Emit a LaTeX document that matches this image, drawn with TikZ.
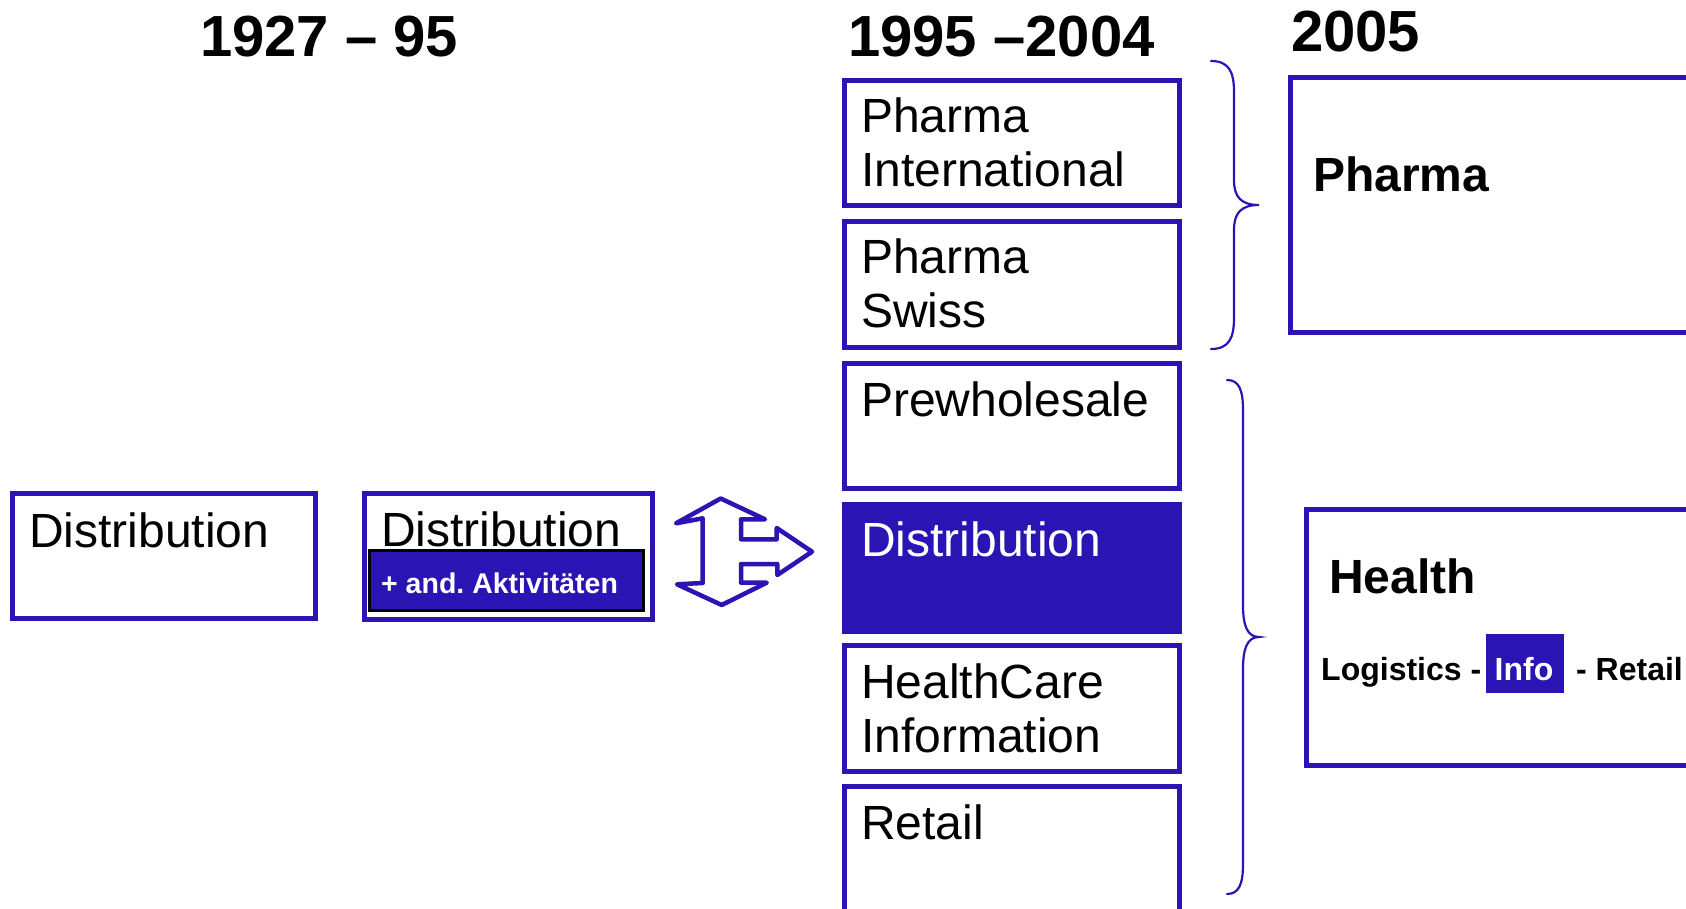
\documentclass[tikz,border=0pt]{standalone}
\usepackage{fontspec}
\setmainfont{Liberation Sans}
\frenchspacing
\definecolor{brand}{RGB}{42,20,180}
\tikzset{
  frame/.style={draw=brand, line width=5pt, fill=white, inner sep=0pt, anchor=north west},
  solidbox/.style={draw=brand, fill=brand, line width=5pt, inner sep=0pt, anchor=north west},
  txt/.style={inner sep=0pt, anchor=base west, font=\fontsize{48}{54}\selectfont},
  txtbold/.style={inner sep=0pt, anchor=base west, font=\fontsize{48}{54}\selectfont\bfseries},
  yeartitle/.style={inner sep=0pt, anchor=base west, font=\fontsize{58}{64}\selectfont\bfseries},
  smallbold/.style={inner sep=0pt, anchor=base west, font=\fontsize{32}{36}\selectfont\bfseries},
  brace/.style={draw=brand, line width=2.2pt, line cap=round},
}
\begin{document}
\begin{tikzpicture}[x=1pt, y=-1pt]
\useasboundingbox (0,0) rectangle (1686,909);
\clip (0,0) rectangle (1686,909);

% period headings
\node[yeartitle] (y1) at (200,57) {1927 – 95};
\node[yeartitle] (y2) at (848,57) {1995 –2004};
\node[yeartitle] (y3) at (1291,52) {2005};

% 1927-95 (anchors sit on the outer edge of the frame line)
\node[frame, minimum width=303.5pt, minimum height=125pt] (old) at (9.5,491) {};
\node[txt] (oldtxt) at (29,547) {Distribution};

% transition box with extra activities
\node[frame, minimum width=288pt, minimum height=126pt] (mid) at (362,491) {};
\node[txt] (midtxt) at (381,546) {Distribution};
\node[draw=black, fill=brand, line width=3pt, inner sep=0pt, anchor=north west,
      minimum width=274pt, minimum height=60pt] (extra) at (368,549) {};
\node[inner sep=0pt, anchor=base west, text=white,
      font=\fontsize{28.5}{32}\selectfont\bfseries] (extratxt) at (381,593) {+ and. Aktivitäten};

% block arrow: up/down with a branch to the right
\draw[draw=brand, fill=white, line width=4.5pt, line join=round]
  (720.7,498.5) -- (765,519.3) -- (741,519.3) -- (741,539.3) -- (776.7,539.3)
  -- (776.7,528) -- (812,551.7) -- (777.3,575) -- (777.3,564) -- (741,564)
  -- (741,582.7) -- (766.7,582.7) -- (721.7,605) -- (677,584.3) -- (702.7,583)
  -- (702.7,518.3) -- (676,523.3) -- cycle;

% 1995-2004 business units
\node[frame, minimum width=335pt, minimum height=125.5pt] (pi) at (842,78) {};
\node[txt] (pi1) at (861,133) {Pharma};
\node[txt] (pi2) at (861,187) {International};

\node[frame, minimum width=335pt, minimum height=125.5pt] (ps) at (842,219.3) {};
\node[txt] (ps1) at (861,273) {Pharma};
\node[txt] (ps2) at (861,327) {Swiss};

\node[frame, minimum width=335pt, minimum height=125.5pt] (pw) at (842,360.6) {};
\node[txt] (pwt) at (861,416) {Prewholesale};

\node[solidbox, minimum width=335pt, minimum height=127pt] (dist) at (842,501.5) {};
\node[txt, text=white] (distt) at (861,556) {Distribution};

\node[frame, minimum width=335pt, minimum height=125.5pt] (hc) at (842,643) {};
\node[txt] (hc1) at (861,698) {HealthCare};
\node[txt] (hc2) at (861,752) {Information};

\node[frame, minimum width=335pt, minimum height=160pt] (rt) at (842,784) {};
\node[txt] (rtt) at (861,839) {Retail};

% grouping braces
\draw[brace] (1211,61) .. controls (1229,61) and (1234,72) .. (1234,92)
  -- (1234,180) .. controls (1234,197) and (1241,205) .. (1259,205)
  .. controls (1241,205) and (1234,213) .. (1234,230)
  -- (1234,318) .. controls (1234,338) and (1229,349) .. (1211,349);
\draw[brace] (1227,380) .. controls (1239,380) and (1243,390) .. (1243,410)
  -- (1243,605) .. controls (1243,625) and (1247,637) .. (1259,637)
  .. controls (1247,637) and (1243,649) .. (1243,669)
  -- (1243,864) .. controls (1243,884) and (1239,894) .. (1227,894);

% 2005 divisions
\node[frame, minimum width=420pt, minimum height=255pt] (pharma) at (1288,75) {};
\node[txtbold] (pharmat) at (1313,192) {Pharma};

\node[frame, minimum width=420pt, minimum height=256pt] (health) at (1304,507) {};
\node[txtbold] (healtht) at (1329,593) {Health};
\node[smallbold] (logi) at (1321,680) {Logistics -};
\node[fill=brand, inner sep=0pt, outer sep=0pt, anchor=north west, minimum width=78pt, minimum height=59pt] (infobox) at (1486,634) {};
\node[smallbold, text=white] (info) at (1494.5,680) {Info};
\node[smallbold] (retail) at (1576,680) {- Retail};
\end{tikzpicture}
\end{document}
